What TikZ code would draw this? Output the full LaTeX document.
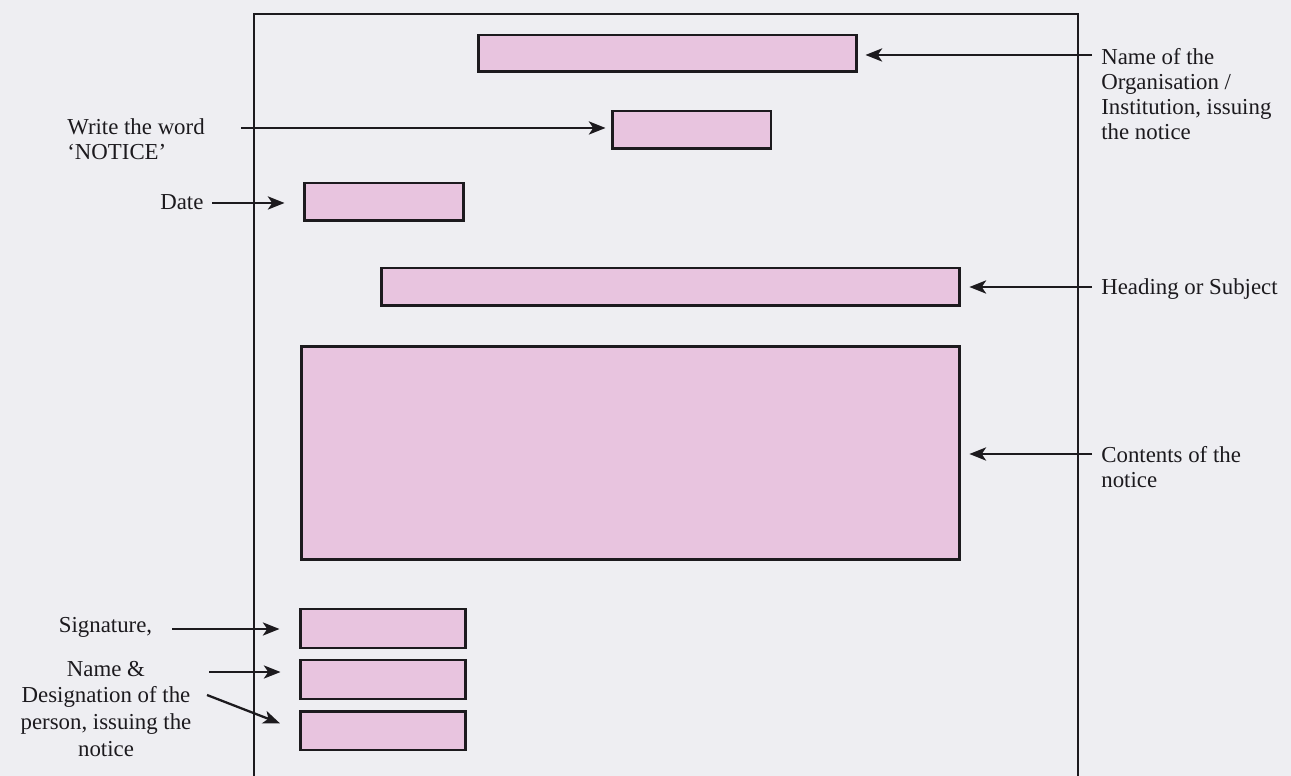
\documentclass[tikz,border=0pt]{standalone}
\usepackage{fontspec}
\setmainfont{Liberation Serif}
\usetikzlibrary{arrows.meta}
\definecolor{bg}{RGB}{238,238,242}
\definecolor{pinkfill}{RGB}{232,196,223}
\definecolor{ink}{RGB}{28,26,30}
\begin{document}
\begin{tikzpicture}[x=0.02cm,y=-0.02cm,
  pbox/.style={draw=ink, line width=1.7pt, fill=pinkfill, inner sep=0pt, rectangle},
  lbl/.style={font=\fontsize{13}{14.2}\selectfont, inner sep=0pt, text=ink},
  lblb/.style={font=\fontsize{13}{15.2}\selectfont, inner sep=0pt, text=ink},
  arr/.style={draw=ink, line width=1.3pt, -{Stealth[length=9.5pt,width=7.5pt,inset=2.5pt]}},
  framestyle/.style={draw=ink, line width=1.2pt}]
\fill[bg] (0,0) rectangle (1291,776);
\useasboundingbox (0,0) rectangle (1291,776);
% outer page frame
\draw[framestyle] (254,776) -- (254,14) -- (1078,14) -- (1078,776);
% pink boxes
\node[pbox, minimum width=7.58cm, minimum height=0.74cm] (org) at (667.5,53.5) {};
\node[pbox, minimum width=3.18cm, minimum height=0.76cm] (notice) at (691.5,130) {};
\node[pbox, minimum width=3.2cm, minimum height=0.76cm] (date) at (384,202) {};
\node[pbox, minimum width=11.58cm, minimum height=0.76cm] (heading) at (670.5,287) {};
\node[pbox, minimum width=13.18cm, minimum height=4.28cm] (contents) at (630.5,453) {};
\node[pbox, minimum width=3.32cm, minimum height=0.78cm] (sig) at (383,628.5) {};
\node[pbox, minimum width=3.32cm, minimum height=0.78cm] (name) at (383,679.5) {};
\node[pbox, minimum width=3.32cm, minimum height=0.78cm] (desig) at (383,730.5) {};
% labels
\node[lbl, align=left, anchor=north west] (lorg) at (1101,48.5) {Name of the\\Organisation /\\Institution, issuing\\the notice};
\node[lbl, align=left, anchor=north west] (lnotice) at (67,118.5) {Write the word\\‘NOTICE’};
\node[lbl, anchor=base west] (ldate) at (160,210) {Date};
\node[lbl, anchor=base west] (lheading) at (1101,295) {Heading or Subject};
\node[lbl, align=left, anchor=north west] (lcontents) at (1101,446.5) {Contents of the\\notice};
\node[lbl, anchor=base] (lsig) at (105.5,632) {Signature,};
\node[lblb, align=center, anchor=north] (lname) at (106,660.5) {Name \&\\Designation of the\\person, issuing the\\notice};
% arrow start points
\coordinate (sorg) at (1092,55);
\coordinate (snotice) at (241,128);
\coordinate (sdate) at (212,203);
\coordinate (sheading) at (1092,287);
\coordinate (scontents) at (1092,454);
\coordinate (ssig) at (172,629);
\coordinate (sname) at (209,672);
\coordinate (sdesig) at (207,695);
% connectors
\draw[arr, shorten >=0.14cm] (sorg) -- (org.east |- sorg);
\draw[arr, shorten >=0.1cm] (snotice) -- (notice.west |- snotice);
\draw[arr, shorten >=0.36cm] (sdate) -- (date.west |- sdate);
\draw[arr, shorten >=0.16cm] (sheading) -- (heading.east |- sheading);
\draw[arr, shorten >=0.16cm] (scontents) -- (contents.east |- scontents);
\draw[arr, shorten >=0.38cm] (ssig) -- (sig.west |- ssig);
\draw[arr, shorten >=0.36cm] (sname) -- (name.west |- sname);
\draw[arr, shorten >=0.4cm] (sdesig) -- (desig.west);
\end{tikzpicture}
\end{document}
